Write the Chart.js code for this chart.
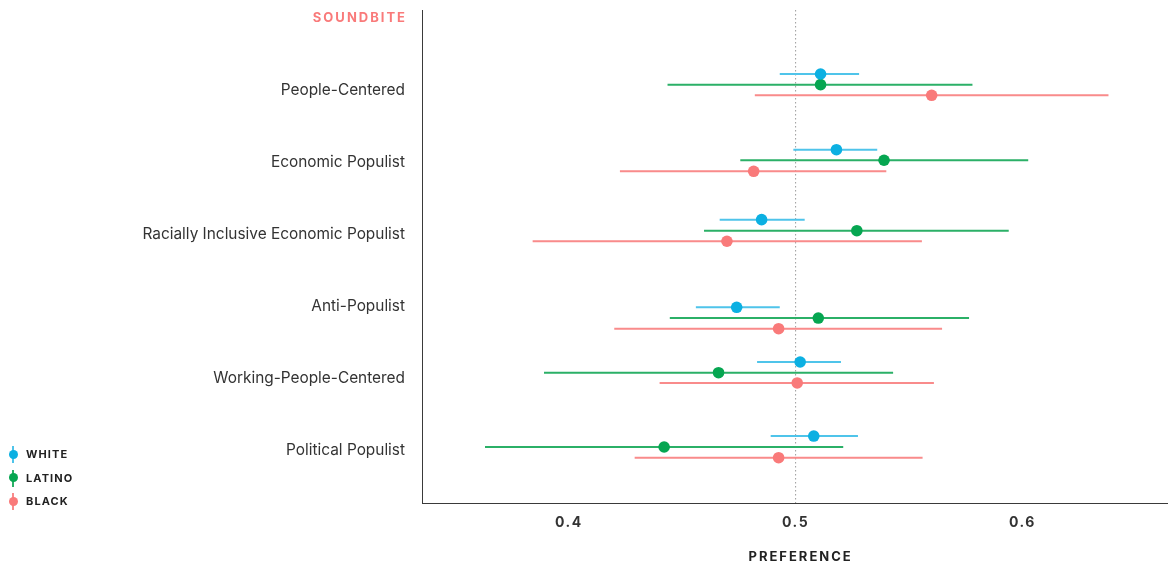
<!DOCTYPE html>
<html>
<head>
<meta charset="utf-8">
<script src="https://cdn.jsdelivr.net/npm/chart.js@4"></script>
<style>
  body { margin: 0; background: #fff; font-family: Inter, "Noto Sans", sans-serif; }
  #wrap { position: relative; width: 1173px; height: 562px; }
  #legend { position: absolute; left: 7px; top: 444px; }
  .item { position: relative; height: 23.5px; padding-left: 19px; font-size: 11px; font-weight: 700;
          letter-spacing: 1.1px; color: #222; line-height: 20px; }
  .item i { position: absolute; left: 5px; top: 2px; width: 2px; height: 17px; }
  .item b { position: absolute; left: 1.5px; top: 5.5px; width: 9px; height: 9px; border-radius: 50%; }
</style>
</head>
<body>
<div id="wrap">
  <canvas id="forestChart" width="1173" height="562"></canvas>
  <div id="legend"></div>
</div>
<script>
// categories and header
const header = 'SOUNDBITE'
const axisTitle = 'PREFERENCE'
const categories = ['People-Centered', 'Economic Populist', 'Racially Inclusive Economic Populist',
  'Anti-Populist', 'Working-People-Centered', 'Political Populist']
const seriesNames = ['WHITE', 'LATINO', 'BLACK']
const xTicks = [0.4, 0.5, 0.6]

// estimates + intervals
const whiteEst = [0.511, 0.518, 0.485, 0.474, 0.502, 0.508]
const whiteLo  = [0.493, 0.499, 0.4665, 0.456, 0.483, 0.489]
const whiteHi  = [0.528, 0.536, 0.504, 0.493, 0.520, 0.5275]
const latinoEst = [0.511, 0.539, 0.527, 0.510, 0.466, 0.442]
const latinoLo  = [0.4435, 0.4756, 0.4596, 0.4445, 0.389, 0.363]
const latinoHi  = [0.578, 0.6026, 0.594, 0.5765, 0.543, 0.521]
const blackEst = [0.560, 0.4815, 0.4697, 0.4925, 0.5007, 0.4925]
const blackLo  = [0.482, 0.4225, 0.384, 0.420, 0.440, 0.429]
const blackHi  = [0.638, 0.540, 0.5557, 0.5646, 0.561, 0.556]

// row positions (category units, 1 = first soundbite)
const whiteY  = [0.778, 1.829, 2.801, 4.018, 4.778, 5.806]
const latinoY = [0.926, 1.976, 2.954, 4.167, 4.926, 5.958]
const blackY  = [1.074, 2.129, 3.101, 4.315, 5.069, 6.107]

const dotColors = ['#0cb0e2', '#06a651', '#f97a7a']
const lineColors = ['#4fc4ea', '#2bb067', '#f98b8b']

const yMin = -0.111, yMax = 6.736

function barData(lo, hi, ys) {
  let out = []
  for (let i = 0; i < lo.length; i++) {
    out.push({ x: lo[i], y: ys[i] }, { x: hi[i], y: ys[i] }, { x: NaN, y: NaN })
  }
  return out
}
function dotData(est, ys) {
  return est.map((v, i) => ({ x: v, y: ys[i] }))
}

const groups = [
  [whiteEst, whiteLo, whiteHi, whiteY],
  [latinoEst, latinoLo, latinoHi, latinoY],
  [blackEst, blackLo, blackHi, blackY],
]

let datasets = [{
  label: 'ref',
  data: [{ x: 0.5, y: yMin }, { x: 0.5, y: yMax }],
  showLine: true, borderColor: '#9a9a9a', borderWidth: 1, borderDash: [1.5, 2.5],
  pointRadius: 0, order: 10,
}]
groups.forEach((g, k) => {
  datasets.push({
    label: seriesNames[k] + ' ci',
    data: barData(g[1], g[2], g[3]),
    showLine: true, spanGaps: false, borderColor: lineColors[k], borderWidth: 2,
    pointRadius: 0, order: 5,
  })
})
groups.forEach((g, k) => {
  datasets.push({
    label: seriesNames[k],
    data: dotData(g[0], g[3]),
    backgroundColor: dotColors[k], borderWidth: 0,
    pointRadius: 5.8, order: 1,
  })
})

const yLabels = [header].concat(categories)

// letter spacing for the spaced-out caps labels (chart.js has no option for it)
const canvas = document.getElementById('forestChart')
const ctx = canvas.getContext('2d')
const spaced = { 'SOUNDBITE': [2, 0, 0], 'PREFERENCE': [2, 6, 3], '0.4': [1.5, 0, 0], '0.5': [1.5, 0, 0], '0.6': [1.5, 0, 0] }
const origFill = ctx.fillText
ctx.fillText = function (t, x, y, w) {
  const sp = spaced[t]
  if (sp) {
    this.letterSpacing = sp[0] + 'px'
    if (this.textAlign === 'right') x += sp[0]
    origFill.call(this, t, x + sp[1], y + sp[2], w)
    this.letterSpacing = '0px'
  } else {
    origFill.call(this, t, x, y, w)
  }
}

const config = {
  type: 'scatter',
  data: { datasets: datasets },
  options: {
    responsive: false,
    animation: false,
    layout: { padding: { top: 10, right: 5, left: 0, bottom: 0 } },
    plugins: { legend: { display: false }, tooltip: { enabled: false } },
    scales: {
      x: {
        min: 0.3352, max: 0.6639,
        afterBuildTicks: (s) => { s.ticks = xTicks.map(v => ({ value: v })) },
        afterFit: (s) => { s.height = 59; s.paddingLeft = 0; s.paddingRight = 0 },
        grid: { display: false, drawTicks: false },
        border: { display: true, color: '#3a3a3a', width: 1 },
        ticks: {
          padding: 11, color: '#333',
          font: { family: 'Inter', size: 14, weight: 'bold' },
          callback: (v) => v.toFixed(1),
        },
        title: {
          display: true, text: axisTitle, color: '#222',
          font: { family: 'Inter', size: 13, weight: 'bold' },
          padding: { top: 20, bottom: 0 },
        },
      },
      y: {
        reverse: true, min: yMin, max: yMax,
        afterBuildTicks: (s) => { s.ticks = yLabels.map((l, i) => ({ value: i })) },
        afterFit: (s) => { s.width = 422; s.paddingTop = 0; s.paddingBottom = 0 },
        grid: { display: false, drawTicks: false },
        border: { display: true, color: '#3a3a3a', width: 1 },
        ticks: {
          padding: 17, autoSkip: false,
          color: (c) => c.index === 0 ? '#f97a7a' : '#333',
          font: (c) => c.index === 0
            ? { family: 'Inter', size: 13, weight: 'bold' }
            : { family: 'Inter', size: 15.4, weight: 'normal' },
          callback: (v, i) => yLabels[i],
        },
      },
    },
  },
}

var forestChart = new Chart(canvas, config)

// legend
const legend = document.getElementById('legend')
seriesNames.forEach((name, k) => {
  const el = document.createElement('div')
  el.className = 'item'
  el.innerHTML = '<i style="background:' + lineColors[k] + '"></i><b style="background:' + dotColors[k] + '"></b>' + name
  legend.appendChild(el)
})
</script>
</body>
</html>
